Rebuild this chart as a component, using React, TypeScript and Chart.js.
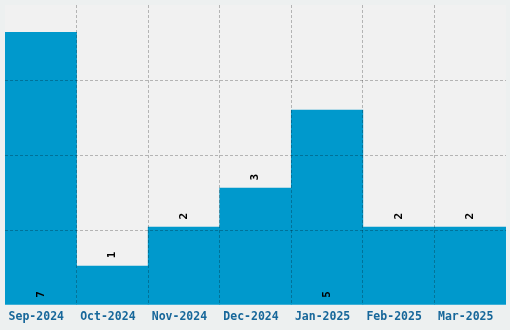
import React, { useEffect, useRef } from "react";
import { Chart, registerables } from "chart.js";

Chart.register(...registerables);

const categories = ["Sep-2024", "Oct-2024", "Nov-2024", "Dec-2024", "Jan-2025", "Feb-2025", "Mar-2025"];
const counts = [7, 1, 2, 3, 5, 2, 2];
const yMax = 7.7;
const yTicks = [0, 1.925, 3.85, 5.775, 7.7];

const plotBg = {
  id: "plotBg",
  beforeDraw(chart: any) {
    const { ctx, chartArea } = chart;
    ctx.save();
    ctx.fillStyle = "#f1f1f1";
    ctx.fillRect(chartArea.left, chartArea.top, chartArea.right - chartArea.left, chartArea.bottom - chartArea.top);
    ctx.restore();
  },
};

const valueLabels = {
  id: "valueLabels",
  afterDraw(chart: any) {
    const { ctx } = chart;
    const meta = chart.getDatasetMeta(0);
    const data = chart.data.datasets[0].data as number[];
    ctx.save();
    ctx.fillStyle = "#000000";
    ctx.font = "bold 11px 'DejaVu Sans Mono', monospace";
    ctx.textAlign = "center";
    ctx.textBaseline = "middle";
    meta.data.forEach((bar: any, i: number) => {
      const v = data[i];
      const y = v >= 4 ? bar.base - 10 : bar.y - 11;
      ctx.save();
      ctx.translate(bar.x, y);
      ctx.rotate(-Math.PI / 2);
      ctx.fillText(String(v), 0, 0);
      ctx.restore();
    });
    ctx.restore();
  },
};

const gridColor = "rgba(0,0,0,0.25)";

export default function App() {
  const ref = useRef<HTMLCanvasElement | null>(null);
  useEffect(() => {
    if (!ref.current) return;
    const chart = new Chart(ref.current, {
      type: "bar",
      data: {
        labels: categories,
        datasets: [
          {
            data: counts,
            backgroundColor: "#0099cc",
            borderWidth: 0,
            barPercentage: 1,
            categoryPercentage: 1,
          },
        ],
      },
      options: {
        animation: false,
        responsive: false,
        maintainAspectRatio: false,
        layout: { padding: { left: 5, top: 5, right: 4, bottom: 0 } },
        plugins: { legend: { display: false }, tooltip: { enabled: false } },
        scales: {
          x: {
            border: { display: false, dash: [3, 2] },
            grid: {
              z: 1,
              offset: true,
              drawTicks: false,
              color: (c: any) =>
                c.type !== "tick" || c.index === 0 ? "transparent" : gridColor,
              lineWidth: 1,
            } as any,
            ticks: {
              color: "#17679a",
              font: { family: "'DejaVu Sans Mono', monospace", size: 11.5, weight: "bold" },
              padding: 5,
              labelOffset: -4.5,
              maxRotation: 0,
              autoSkip: false,
            },
            afterFit: (s: any) => {
              s.height = 25;
            },
          },
          y: {
            min: 0,
            max: yMax,
            border: { display: false, dash: [3, 2] },
            grid: {
              z: 1,
              drawTicks: false,
              color: (c: any) =>
                c.type !== "tick" || c.index === 0 || c.index === yTicks.length - 1 ? "transparent" : gridColor,
            } as any,
            ticks: { display: false },
            afterBuildTicks: (s: any) => {
              s.ticks = yTicks.map((v) => ({ value: v }));
            },
            afterFit: (s: any) => {
              s.width = 0;
            },
          },
        },
      },
      plugins: [plotBg, valueLabels],
    });
    return () => chart.destroy();
  }, []);
  return (
    <div style={{ position: "fixed", left: 0, top: 0, width: 510, height: 330, background: "#edf0f0" }}>
      <canvas ref={ref} width={510} height={330} style={{ display: "block" }} />
    </div>
  );
}
